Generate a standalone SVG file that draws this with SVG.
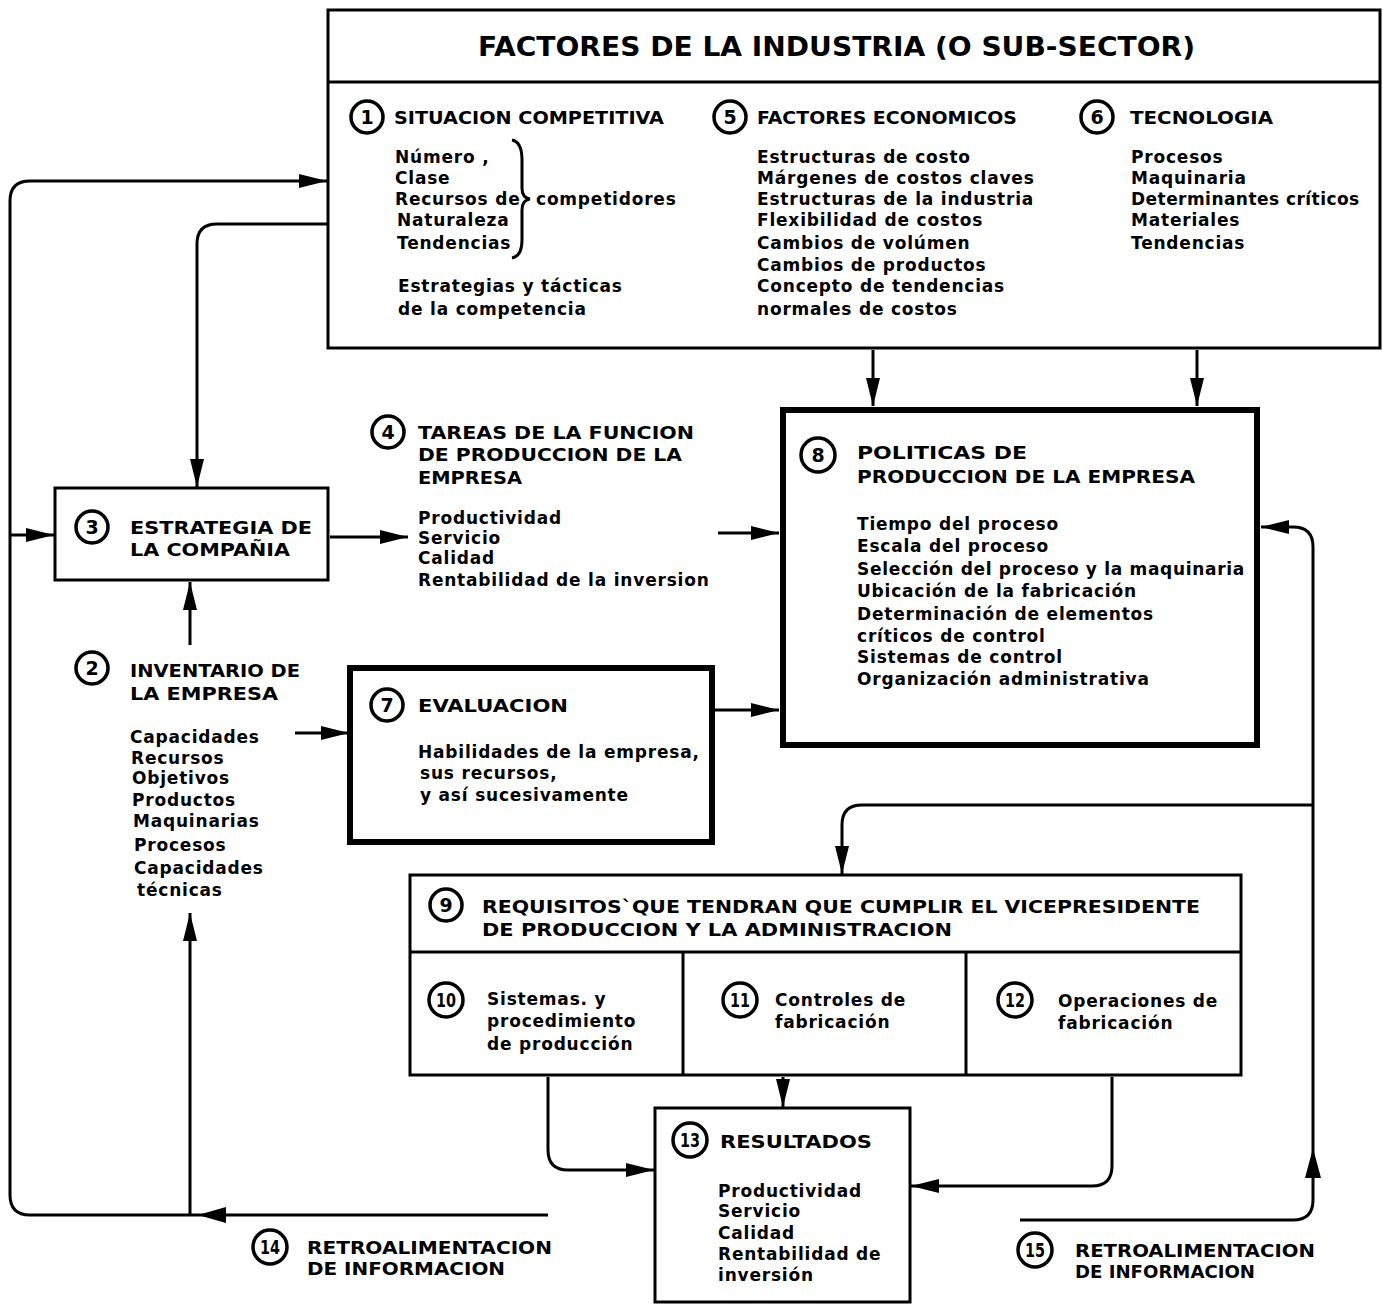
<svg xmlns="http://www.w3.org/2000/svg" width="1383" height="1310" viewBox="0 0 1383 1310">
<style>
text{font-family:"DejaVu Sans","Liberation Sans",Arial,sans-serif;font-weight:bold;fill:#000}
.h{font-size:18px}
.t{font-size:17px;letter-spacing:0.8px}
.n{font-size:19px;text-anchor:middle}
.title{font-size:26px}
.box{fill:#fff;stroke:#000;stroke-width:3}
.thick{fill:#fff;stroke:#000;stroke-width:6}
.c{fill:#fff;stroke:#000;stroke-width:3.5}
.ln{fill:none;stroke:#000;stroke-width:3}
.cn path{fill:none;stroke:#000;stroke-width:3}
</style>
<defs>
<marker id="ah" viewBox="0 0 28 14" refX="28" refY="7" markerWidth="28" markerHeight="14" markerUnits="userSpaceOnUse" orient="auto"><path d="M0,0 L28,7 L0,14 z" fill="#000"/></marker>
</defs>
<rect width="1383" height="1310" fill="#fff"/>

<g id="n-industria">
<rect class="box" x="328" y="10" width="1052" height="338"/>
<line class="ln" x1="328" y1="82" x2="1380" y2="82"/>
<text class="title" x="478" y="56" textLength="717" lengthAdjust="spacingAndGlyphs">FACTORES DE LA INDUSTRIA (O SUB-SECTOR)</text>
</g>

<g id="n1">
<circle class="c" cx="367" cy="117" r="16"/><text class="n" x="367" y="124">1</text>
<text class="h" x="394" y="124" textLength="270" lengthAdjust="spacingAndGlyphs">SITUACION COMPETITIVA</text>
<text class="t" x="395" y="163">Número  ,</text>
<text class="t" x="395" y="184">Clase</text>
<text class="t" x="395" y="205">Recursos de</text>
<text class="t" x="397" y="226">Naturaleza</text>
<text class="t" x="397" y="249">Tendencias</text>
<path class="ln" d="M512,140 Q522,142 522,160 V188 Q522,198 530,199 Q522,200 522,210 V240 Q522,256 512,258"/>
<text class="t" x="536" y="205">competidores</text>
<text class="t" x="398" y="292">Estrategias y tácticas</text>
<text class="t" x="398" y="315">de la competencia</text>
</g>

<g id="n5">
<circle class="c" cx="730" cy="117" r="16"/><text class="n" x="730" y="124">5</text>
<text class="h" x="757" y="124" textLength="260" lengthAdjust="spacingAndGlyphs">FACTORES ECONOMICOS</text>
<text class="t" x="757" y="163">Estructuras de costo</text>
<text class="t" x="757" y="184">Márgenes de costos claves</text>
<text class="t" x="757" y="205">Estructuras de la industria</text>
<text class="t" x="757" y="226">Flexibilidad de costos</text>
<text class="t" x="757" y="249">Cambios de volúmen</text>
<text class="t" x="757" y="271">Cambios de productos</text>
<text class="t" x="757" y="292">Concepto de tendencias</text>
<text class="t" x="757" y="315">normales de costos</text>
</g>

<g id="n6">
<circle class="c" cx="1097" cy="117" r="16"/><text class="n" x="1097" y="124">6</text>
<text class="h" x="1130" y="124" textLength="143" lengthAdjust="spacingAndGlyphs">TECNOLOGIA</text>
<text class="t" x="1131" y="163">Procesos</text>
<text class="t" x="1131" y="184">Maquinaria</text>
<text class="t" x="1131" y="205" textLength="229" lengthAdjust="spacing">Determinantes críticos</text>
<text class="t" x="1131" y="226">Materiales</text>
<text class="t" x="1131" y="249">Tendencias</text>
</g>

<g id="n3">
<rect class="box" x="55" y="488" width="273" height="92"/>
<circle class="c" cx="92" cy="527" r="16"/><text class="n" x="92" y="534">3</text>
<text class="h" x="130" y="534" textLength="182" lengthAdjust="spacingAndGlyphs">ESTRATEGIA DE</text>
<text class="h" x="130" y="556" textLength="160" lengthAdjust="spacingAndGlyphs">LA COMPAÑIA</text>
</g>

<g id="n4">
<circle class="c" cx="388" cy="432" r="16"/><text class="n" x="388" y="439">4</text>
<text class="h" x="418" y="439" textLength="276" lengthAdjust="spacingAndGlyphs">TAREAS DE LA FUNCION</text>
<text class="h" x="418" y="461" textLength="264" lengthAdjust="spacingAndGlyphs">DE PRODUCCION DE LA</text>
<text class="h" x="418" y="484" textLength="104" lengthAdjust="spacingAndGlyphs">EMPRESA</text>
<text class="t" x="418" y="524">Productividad</text>
<text class="t" x="418" y="544">Servicio</text>
<text class="t" x="418" y="564">Calidad</text>
<text class="t" x="418" y="586">Rentabilidad de la inversion</text>
</g>

<g id="n2">
<circle class="c" cx="92" cy="668" r="16"/><text class="n" x="92" y="675">2</text>
<text class="h" x="130" y="677" textLength="170" lengthAdjust="spacingAndGlyphs">INVENTARIO DE</text>
<text class="h" x="130" y="700" textLength="148" lengthAdjust="spacingAndGlyphs">LA EMPRESA</text>
<text class="t" x="130" y="743">Capacidades</text>
<text class="t" x="131" y="764">Recursos</text>
<text class="t" x="132" y="784">Objetivos</text>
<text class="t" x="132" y="806">Productos</text>
<text class="t" x="133" y="827">Maquinarias</text>
<text class="t" x="134" y="851">Procesos</text>
<text class="t" x="134" y="874">Capacidades</text>
<text class="t" x="137" y="896">técnicas</text>
</g>

<g id="n7">
<rect class="thick" x="350" y="668" width="362" height="174"/>
<circle class="c" cx="387" cy="705" r="16"/><text class="n" x="387" y="712">7</text>
<text class="h" x="418" y="712" textLength="150" lengthAdjust="spacingAndGlyphs">EVALUACION</text>
<text class="t" x="418" y="758">Habilidades de la empresa,</text>
<text class="t" x="420" y="779">sus recursos,</text>
<text class="t" x="420" y="801">y así sucesivamente</text>
</g>

<g id="n8">
<rect class="thick" x="783" y="410" width="474" height="335"/>
<circle class="c" cx="818" cy="455" r="17"/><text class="n" x="818" y="462">8</text>
<text class="h" x="857" y="459" textLength="170" lengthAdjust="spacingAndGlyphs">POLITICAS DE</text>
<text class="h" x="857" y="483" textLength="338" lengthAdjust="spacingAndGlyphs">PRODUCCION DE LA EMPRESA</text>
<text class="t" x="857" y="530">Tiempo del proceso</text>
<text class="t" x="857" y="552">Escala del proceso</text>
<text class="t" x="857" y="575" textLength="388" lengthAdjust="spacing">Selección del proceso y la maquinaria</text>
<text class="t" x="857" y="597">Ubicación de la fabricación</text>
<text class="t" x="857" y="620">Determinación de elementos</text>
<text class="t" x="857" y="642">críticos de control</text>
<text class="t" x="857" y="663">Sistemas de control</text>
<text class="t" x="857" y="685">Organización administrativa</text>
</g>

<g id="n9">
<rect class="box" x="410" y="875" width="831" height="200"/>
<line class="ln" x1="410" y1="952" x2="1241" y2="952"/>
<line class="ln" x1="683" y1="952" x2="683" y2="1075"/>
<line class="ln" x1="966" y1="952" x2="966" y2="1075"/>
<circle class="c" cx="446" cy="905" r="16"/><text class="n" x="446" y="912">9</text>
<text class="h" x="482" y="913" textLength="718" lengthAdjust="spacingAndGlyphs">REQUISITOS`QUE TENDRAN QUE CUMPLIR EL VICEPRESIDENTE</text>
<text class="h" x="482" y="936" textLength="470" lengthAdjust="spacingAndGlyphs">DE PRODUCCION Y LA ADMINISTRACION</text>
</g>

<g id="n10">
<circle class="c" cx="446" cy="1000" r="17"/><text class="n" x="446" y="1007" textLength="20" lengthAdjust="spacingAndGlyphs">10</text>
<text class="t" x="487" y="1005">Sistemas. y</text>
<text class="t" x="487" y="1027">procedimiento</text>
<text class="t" x="487" y="1050">de producción</text>
</g>

<g id="n11">
<circle class="c" cx="740" cy="1000" r="17"/><text class="n" x="740" y="1007" textLength="20" lengthAdjust="spacingAndGlyphs">11</text>
<text class="t" x="775" y="1006">Controles de</text>
<text class="t" x="775" y="1028">fabricación</text>
</g>

<g id="n12">
<circle class="c" cx="1015" cy="1000" r="17"/><text class="n" x="1015" y="1007" textLength="20" lengthAdjust="spacingAndGlyphs">12</text>
<text class="t" x="1058" y="1007">Operaciones de</text>
<text class="t" x="1058" y="1029">fabricación</text>
</g>

<g id="n13">
<rect class="box" x="655" y="1108" width="255" height="194"/>
<circle class="c" cx="690" cy="1140" r="17"/><text class="n" x="690" y="1147" textLength="20" lengthAdjust="spacingAndGlyphs">13</text>
<text class="h" x="720" y="1148" textLength="152" lengthAdjust="spacingAndGlyphs">RESULTADOS</text>
<text class="t" x="718" y="1197">Productividad</text>
<text class="t" x="718" y="1217">Servicio</text>
<text class="t" x="718" y="1239">Calidad</text>
<text class="t" x="718" y="1260">Rentabilidad de</text>
<text class="t" x="718" y="1281">inversión</text>
</g>

<g id="n14">
<circle class="c" cx="270" cy="1247" r="17"/><text class="n" x="270" y="1254" textLength="20" lengthAdjust="spacingAndGlyphs">14</text>
<text class="h" x="307" y="1254" textLength="245" lengthAdjust="spacingAndGlyphs">RETROALIMENTACION</text>
<text class="h" x="307" y="1275" textLength="198" lengthAdjust="spacingAndGlyphs">DE INFORMACION</text>
</g>

<g id="n15">
<circle class="c" cx="1035" cy="1250" r="17"/><text class="n" x="1035" y="1257" textLength="20" lengthAdjust="spacingAndGlyphs">15</text>
<text class="h" x="1075" y="1257" textLength="240" lengthAdjust="spacingAndGlyphs">RETROALIMENTACION</text>
<text class="h" x="1075" y="1278" textLength="180" lengthAdjust="spacingAndGlyphs">DE INFORMACION</text>
</g>

<g id="connectors" class="cn">
<path d="M548,1215 H30 Q10,1215 10,1195 V201 Q10,181 30,181 H327" marker-end="url(#ah)"/>
<polygon points="198,1215 226,1207 226,1223" fill="#000"/>
<path d="M190,1215 V913" marker-end="url(#ah)"/>
<path d="M10,535 H54" marker-end="url(#ah)"/>
<path d="M328,224 H217 Q197,224 197,244 V487" marker-end="url(#ah)"/>
<path d="M330,537 H408" marker-end="url(#ah)"/>
<path d="M190,645 V582" marker-end="url(#ah)"/>
<path d="M295,733 H349" marker-end="url(#ah)"/>
<path d="M714,710 H779" marker-end="url(#ah)"/>
<path d="M718,533 H779" marker-end="url(#ah)"/>
<path d="M873,350 V406" marker-end="url(#ah)"/>
<path d="M1197,350 V406" marker-end="url(#ah)"/>
<path d="M1020,1220 H1293 Q1313,1220 1313,1200 V547 Q1313,527 1293,527 H1261" marker-end="url(#ah)"/>
<polygon points="1313,1148 1305,1178 1321,1178" fill="#000"/>
<path d="M1313,805 H862 Q842,805 842,825 V874" marker-end="url(#ah)"/>
<path d="M783,1077 V1107" marker-end="url(#ah)"/>
<path d="M548,1077 V1150 Q548,1170 568,1170 H654" marker-end="url(#ah)"/>
<path d="M1112,1077 V1166 Q1112,1186 1092,1186 H911" marker-end="url(#ah)"/>
</g>
</svg>
